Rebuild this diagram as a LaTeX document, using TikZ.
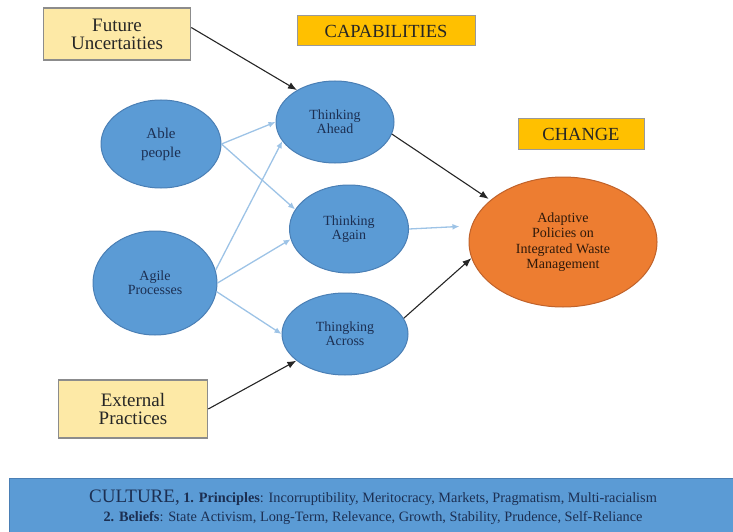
\documentclass[tikz,border=0pt]{standalone}
\usepackage{fontspec}
\setmainfont{Liberation Serif}
\usetikzlibrary{arrows,arrows.meta,shapes.geometric}
\definecolor{bubble}{HTML}{5B9BD5}
\definecolor{bubedge}{HTML}{4A7FB5}
\definecolor{navytext}{HTML}{1C2F52}
\definecolor{paleyel}{HTML}{FDE9A6}
\definecolor{gold}{HTML}{FFC000}
\definecolor{orng}{HTML}{ED7D31}
\definecolor{orngedge}{HTML}{C0622A}
\definecolor{lightarrow}{HTML}{9DC3E6}

\begin{document}
\begin{tikzpicture}[x=1pt,y=-1pt,
  bub/.style={ellipse,draw=bubedge,fill=bubble,line width=1pt,inner sep=0pt,align=center,text=navytext,font=\fontsize{14}{14}\selectfont},
  note/.style={rectangle,draw=black!45,fill=paleyel,line width=1.5pt,inner sep=0pt,align=center,text=black!85,font=\fontsize{19}{18}\selectfont},
  head/.style={rectangle,draw=black!40,fill=gold,line width=1pt,inner sep=0pt,text=black!85,font=\fontsize{18.5}{18}\selectfont},
  lb/.style={draw=lightarrow,line width=1.3pt,-{Latex[length=7pt,width=6pt]}},
  bk/.style={draw=black!85,line width=1.1pt,-{Latex[length=9pt,width=7pt]}}]
                      \useasboundingbox (0,0) rectangle (733,532);
                      \node[note,minimum width=147pt,minimum height=52pt] (fut) at (117,34) {Future\\Uncertaities};
                      \node[head,minimum width=178pt,minimum height=30pt] (cap) at (386,31) {CAPABILITIES};
                      \node[head,minimum width=126pt,minimum height=31pt] (chg) at (581,134) {CHANGE};
                      \node[bub,minimum width=120pt,minimum height=88pt,font=\fontsize{15}{19}\selectfont] (able) at (161,144) {Able\\people};
                      \node[bub,minimum width=124pt,minimum height=104pt] (agile) at (155,283) {Agile\\Processes};
                      \node[bub,minimum width=118pt,minimum height=82pt] (ahead) at (335,122) {Thinking\\Ahead};
                      \node[bub,minimum width=119pt,minimum height=88pt] (again) at (349,229) {Thinking\\Again};
                      \node[bub,minimum width=126pt,minimum height=82pt] (across) at (345,334) {Thingking\\Across};
                      \node[ellipse,draw=orngedge,fill=orng,line width=1pt,inner sep=0pt,align=center,text=black!80!orng,
                            font=\fontsize{14}{15.5}\selectfont,minimum width=188pt,minimum height=130pt] (adapt) at (563,242)
                            {Adaptive\\Policies on\\Integrated Waste\\Management};
                      \node[note,minimum width=149pt,minimum height=58pt] (ext) at (133,409) {External\\Practices};
                      \node[rectangle,draw=bubedge,fill=bubble,line width=1pt,minimum width=728pt,minimum height=58pt,inner sep=0pt,
                            align=center,text=navytext,font=\fontsize{14.3}{19}\selectfont] (culture) at (373,507)
                            {{\fontsize{19}{19}\selectfont CULTURE,} \textbf{1. Principles}: Incorruptibility, Meritocracy, Markets, Pragmatism, Multi-racialism\\
                             \textbf{2. Beliefs}: State Activism, Long-Term, Relevance, Growth, Stability, Prudence, Self-Reliance};
                      \draw[lb] (able.east) -- (ahead.180);
                      \draw[lb] (able.east) -- (again.160);
                      \draw[lb] (agile.12) -- (ahead.200);
                      \draw[lb] (agile.east) -- (again.190);
                      \draw[lb] (agile.-8) -- (across.180);
                      \draw[lb,shorten >=12pt] (again.east) -- (adapt.170);
                      \draw[bk] (fut.5) -- (ahead.140);
                      \draw[bk,shorten >=2pt] (ahead.-12) -- (adapt.150);
                      \draw[bk] (across.15) -- (adapt.190);
                      \draw[bk] (ext.east) -- (across);
                  \end{tikzpicture}
\end{document}
